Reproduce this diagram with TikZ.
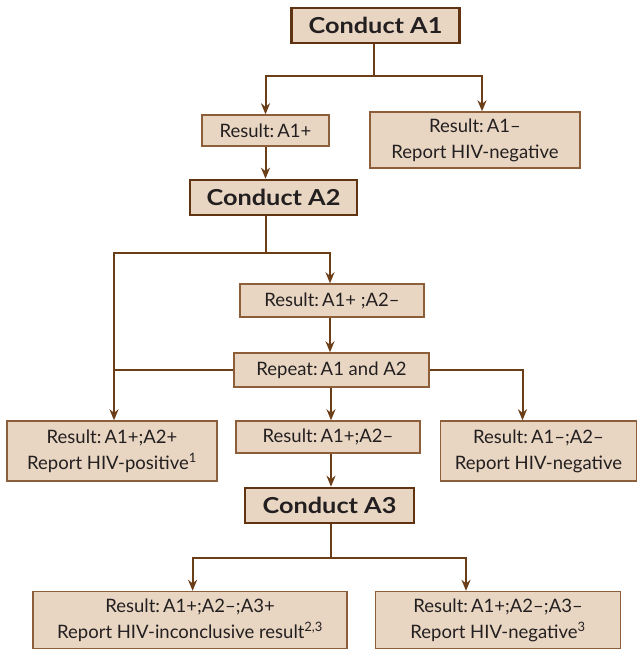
\documentclass[tikz,border=0pt]{standalone}
\usepackage{fontspec}
\setmainfont{Lato}
\newfontfamily\headfont[FakeStretch=1.15]{Lato Bold}
\usetikzlibrary{arrows.meta,calc}
\definecolor{boxfill}{RGB}{232,214,194}
\definecolor{boxline}{RGB}{140,95,58}
\definecolor{darkline}{RGB}{96,52,18}
\definecolor{arrowcol}{RGB}{108,62,24}
\definecolor{txt}{RGB}{35,31,32}
\begin{document}
\begin{tikzpicture}[x=1pt,y=-1pt,
  box/.style={draw=boxline,line width=1.4pt,fill=boxfill,text=txt,inner sep=0pt,
    align=center,font=\fontsize{18.5}{26}\selectfont},
  headbox/.style={draw=darkline,line width=2.6pt,fill=boxfill,text=txt,inner sep=0pt,
    font=\fontsize{22}{24}\selectfont\headfont},
  conn/.style={draw=arrowcol,line width=2pt},
  arr/.style={conn,-{Stealth[length=11pt,width=9pt]}}]
\useasboundingbox (0,0) rectangle (641,650);
\node[headbox,minimum width=168pt,minimum height=35pt] (c1) at (375.5,25.5) {Conduct A1};
\node[box,minimum width=127pt,minimum height=31pt] (r1p) at (265.5,130.5) {Result:\,A1+};
\node[box,minimum width=210pt,minimum height=56pt] (r1n) at (475,140) {Result:\,A1–\\Report HIV-negative};
\node[headbox,minimum width=167pt,minimum height=35pt] (c2) at (273.5,197.5) {Conduct A2};
\node[box,minimum width=184pt,minimum height=33pt] (r12) at (332,300.5) {Result:\,A1+ ;A2–};
\node[box,minimum width=195pt,minimum height=34pt] (rep) at (331.5,370) {Repeat:\,A1 and A2};
\node[box,minimum width=210pt,minimum height=60pt] (rpos) at (112,451) {Result:\,A1+;A2+\\Report HIV-positive\textsuperscript{1}};
\node[box,minimum width=184pt,minimum height=32pt] (rmid) at (328,437) {Result:\,A1+;A2–};
\node[box,minimum width=196pt,minimum height=60pt] (rneg) at (538.5,451) {Result:\,A1–;A2–\\Report HIV-negative};
\node[headbox,minimum width=169pt,minimum height=35pt] (c3) at (329.5,505.5) {Conduct A3};
\node[box,minimum width=314pt,minimum height=57pt] (b1) at (190,620) {Result:\,A1+;A2–;A3+\\Report HIV-inconclusive result\textsuperscript{2,3}};
\node[box,minimum width=245pt,minimum height=57pt] (b2) at (498,620) {Result:\,A1+;A2–;A3–\\Report HIV-negative\textsuperscript{3}};
% connectors
\coordinate (j1) at ($(c1.south)+(-1.5,32)$);
\draw[conn] ([xshift=-1.5pt]c1.south) -- (j1);
\draw[arr] (j1) -| (r1p.north);
\draw[arr] (j1) -| ([xshift=7pt]r1n.north);
\draw[arr] (r1p.south) -- (r1p.south |- c2.north);
\coordinate (j2) at ($(c2.south -| r1p.south)+(0,37)$);
\coordinate (lp) at ($(rpos.north)+(2,0)$);
\draw[conn] (c2.south -| r1p.south) -- (j2);
\draw[arr] (j2) -| ([xshift=-2pt]r12.north);
\draw[arr] (j2) -| (lp);
\draw[conn] (rep.west) -- (rep.west -| lp);
\draw[arr] ([xshift=-2pt]r12.south) -- ([xshift=-2pt]r12.south |- rep.north);
\draw[arr] (rep.east) -| ([xshift=-16pt]rneg.north);
\draw[arr] ([xshift=-0.5pt]rep.south) -- ([xshift=-0.5pt]rep.south |- rmid.north);
\draw[arr] ([xshift=3pt]rmid.south) -- ([xshift=3pt]rmid.south |- c3.north);
\coordinate (j3) at ($(c3.south)+(1.5,34)$);
\draw[conn] ([xshift=1.5pt]c3.south) -- (j3);
\draw[arr] (j3) -| ([xshift=2.6pt]b1.north);
\draw[arr] (j3) -| ([xshift=-32pt]b2.north);
\end{tikzpicture}
\end{document}
